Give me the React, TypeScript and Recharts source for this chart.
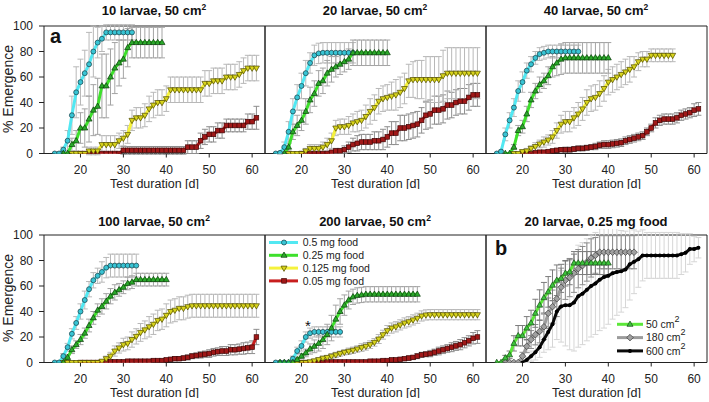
import React from "react";
import { LineChart, Line, XAxis, YAxis, ErrorBar, ReferenceArea } from "recharts";

const FONT = "'Liberation Sans', Arial, Helvetica, sans-serif";

// axes
const xTicks = [20, 30, 40, 50, 60];
const yTicks = [0, 20, 40, 60, 80, 100];
const X_MIN = 11.5;
const X_MAX = 63;
const xLabel = "Test duration [d]";
const yLabel = "% Emergence";

const titles = ["10 larvae, 50 cm", "20 larvae, 50 cm", "40 larvae, 50 cm", "100 larvae, 50 cm", "200 larvae, 50 cm", "20 larvae, 0.25 mg food"];
const titleSups = ["2", "2", "2", "2", "2", ""];
const foodLabels = ["0.5 mg food", "0.25 mg food", "0.125 mg food", "0.05 mg food"];
const areaLabels = ["50 cm", "180 cm", "600 cm"];

// 10 larvae (first day of each series: cyan, green, yellow, red)
const l10Start = [14, 16, 18, 20];
const l10Cyan = [0, 0, 3, 10, 30, 48, 56, 63, 70, 80, 87, 90, 95, 95, 95, 95, 95, 95, 95];
const l10CyanErr = [0, 0, 2, 8, 15, 20, 18, 18, 25, 20, 12, 10, 6, 6, 6, 6, 6, 6, 6];
const l10Green = [0, 0, 7, 10, 20, 20, 27, 34, 37, 53, 53, 60, 67, 71, 74, 83, 87, 87, 87, 87, 87, 87, 87, 87];
const l10GreenErr = [0, 0, 5, 8, 12, 15, 18, 20, 22, 25, 25, 22, 20, 18, 15, 15, 12, 12, 12, 12, 12, 12, 12, 12];
const l10Yellow = [0, 0, 0, 0, 2, 2, 2, 7, 7, 7, 7, 10, 12, 15, 26, 28, 28, 30, 35, 38, 40, 40, 43, 50, 50, 50, 50, 50, 50, 50, 50, 55, 55, 57, 57, 57, 60, 60, 60, 62, 65, 67, 67, 67];
const l10YellowErr = [0, 0, 0, 0, 3, 3, 3, 7, 7, 7, 7, 6, 6, 7, 8, 8, 8, 9, 10, 10, 10, 10, 10, 10, 10, 10, 10, 10, 10, 10, 10, 10, 10, 10, 10, 10, 10, 10, 10, 10, 10, 10, 10, 10];
const l10Red = [0, 0, 0, 0, 0, 0, 0, 0, 0, 0, 2.5, 2.5, 2.5, 2.5, 2.5, 2.5, 2.5, 2.5, 2.5, 2.5, 2.5, 2.5, 2.5, 2.5, 2.5, 5, 5, 5, 10, 13, 15, 15, 18, 18, 22, 22, 22, 22, 22, 25, 25, 28];
const l10RedErr = [0, 0, 0, 0, 0, 0, 0, 0, 0, 0, 3, 3, 3, 3, 3, 3, 3, 3, 3, 3, 3, 3, 3, 3, 3, 5, 5, 5, 6, 6, 6, 6, 6, 6, 5, 5, 5, 5, 5, 6, 6, 9];

// 20 larvae
const l20Start = [14, 16, 17, 20];
const l20Cyan = [0, 0.5, 5, 17, 33, 44, 53, 63, 71, 77, 78.5, 79, 79, 79, 79, 79, 79, 79, 79];
const l20CyanErr = [0, 1, 4, 8, 10, 10, 10, 10, 8, 8, 8, 8, 8, 8, 8, 8, 8, 8, 8];
const l20Green = [0, 5, 17, 22, 26, 33, 42, 47, 55, 57, 63, 66, 68, 70, 72, 74, 79, 79, 79, 79, 79, 79, 79, 79, 79];
const l20GreenErr = [0, 3, 6, 8, 8, 10, 10, 10, 10, 10, 10, 10, 8, 8, 8, 8, 10, 10, 10, 10, 10, 10, 10, 10, 10];
const l20Yellow = [0, 0, 0, 0, 2, 4, 4, 4, 5, 7, 10, 20, 21, 21, 22, 24, 25, 26, 29, 33, 36, 41, 43, 44, 45, 46, 48, 51, 57, 58, 58, 58, 58, 58, 58, 58, 61, 63, 63, 63, 63, 63, 63, 63, 63];
const l20YellowErr = [0, 0, 0, 0, 2, 3, 3, 3, 4, 5, 6, 6, 6, 6, 7, 7, 8, 8, 9, 10, 10, 10, 10, 10, 11, 12, 12, 12, 13, 14, 15, 15, 18, 18, 18, 18, 20, 20, 20, 20, 20, 20, 20, 20, 20];
const l20Red = [0, 0, 0, 0, 0, 0, 0, 1, 2, 2, 3, 5, 7, 8, 9, 9, 9, 10, 10, 11, 13, 16, 16, 20, 20, 21, 22, 23, 26, 30, 31, 34, 34, 35, 38, 38, 40, 41, 41, 44, 46, 46];
const l20RedErr = [0, 0, 0, 0, 0, 0, 0, 1, 2, 2, 3, 4, 5, 6, 6, 6, 6, 7, 7, 8, 8, 9, 9, 10, 10, 10, 10, 10, 10, 11, 11, 11, 11, 11, 11, 10, 10, 10, 10, 10, 9, 9];

// 40 larvae
const l40Start = [14, 16, 18, 20];
const l40Cyan = [0, 1.5, 15, 26, 36, 49, 56, 65, 70, 75, 78, 79, 80, 80, 80, 80, 80, 80, 80, 80];
const l40CyanErr = [0, 1, 5, 6, 7, 8, 8, 6, 6, 5, 5, 5, 5, 5, 5, 5, 5, 5, 5, 5];
const l40Green = [0, 0, 5, 18, 21, 31, 42, 49, 54, 57, 61, 68, 71, 74, 75, 75, 75, 75, 75, 75, 75, 75, 75, 75, 75];
const l40GreenErr = [0, 0, 2, 4, 5, 6, 6, 6, 6, 6, 7, 8, 10, 12, 12, 12, 12, 12, 12, 12, 12, 12, 12, 12, 12];
const l40Yellow = [0, 0, 1.5, 2, 4, 5.5, 7.5, 9, 10.6, 13, 18, 23, 25, 25, 28, 31, 35, 40, 43, 44, 47, 51, 56, 58, 60, 62, 64, 66, 68, 72, 74, 74, 77, 77, 77, 77, 77, 77];
const l40YellowErr = [0, 0, 1, 2, 2, 3, 3, 4, 4, 5, 6, 7, 8, 8, 8, 9, 9, 10, 10, 10, 10, 10, 10, 10, 10, 10, 10, 10, 8, 7, 6, 6, 5, 5, 5, 5, 5, 5];
const l40Red = [0, 0, 0, 0.5, 1, 1, 1.5, 2, 2.5, 3, 3, 3, 3.5, 4, 4, 4.5, 5, 5.5, 6.5, 7, 7, 7.5, 8, 8.5, 10, 11, 12, 13, 14, 17, 20, 24, 26, 27, 27, 27, 28, 30, 31, 32, 34, 35];
const l40RedErr = [0, 0, 0, 0.5, 1, 1, 1, 1, 1.5, 1.5, 2, 2, 2, 2, 2, 2, 2, 2.5, 2.5, 3, 3, 3, 3, 3, 3, 3, 3, 3, 3, 3, 3, 4, 4, 4, 4, 4, 4, 4, 4, 4, 5, 5];

// 100 larvae
const l100Start = [14, 16, 16, 20];
const l100Cyan = [0, 0, 5, 12, 22.5, 31, 40, 49, 57.5, 64.5, 68, 71, 74.4, 76, 76, 76, 76, 76, 76, 76];
const l100CyanErr = [0, 0, 2, 3, 4, 5, 6, 7, 6, 6, 6, 8, 8, 9, 9, 9, 9, 9, 9, 9];
const l100Green = [0, 4, 10, 14, 18, 23, 29, 35, 41, 44, 48, 52, 55, 57, 59, 62, 63, 65, 65, 65, 65, 65, 65, 65, 65];
const l100GreenErr = [0, 2, 3, 3, 4, 4, 5, 5, 5, 6, 6, 6, 6, 5, 5, 5, 5, 5, 5, 5, 5, 5, 5, 5, 5];
const l100Yellow = [0, 0, 0, 0, 0, 0, 0, 0, 0, 1, 3, 5, 9, 11.4, 14, 15, 18, 20.5, 23.6, 25.6, 28, 30, 33, 34, 37, 40, 41, 42.5, 42.5, 43.8, 44.5, 44.5, 44.5, 44.5, 44.5, 44.5, 44.5, 44.5, 44.5, 44.5, 44.5, 44.5, 44.5, 44.5, 44.5, 44.5];
const l100YellowErr = [0, 0, 0, 0, 0, 0, 0, 0, 0, 1, 2, 3, 4, 4, 5, 5, 6, 6, 7, 7, 8, 8, 8, 8, 9, 9, 9, 9, 9, 9, 9, 9, 9, 9, 9, 9, 9, 9, 9, 9, 9, 9, 9, 9, 9, 9];
const l100Red = [0, 0, 0, 0, 0, 0, 0.5, 0.5, 0.5, 0.5, 0.5, 1, 1, 1, 1, 1, 1, 1.5, 1.5, 1.5, 2, 2.5, 3, 3, 3.5, 4, 5, 5.5, 6, 6.5, 7, 8, 8.5, 9, 9, 10, 10, 10.5, 11, 11.5, 12, 20];
const l100RedErr = [0, 0, 0, 0, 0, 0, 0.5, 0.5, 0.5, 0.5, 0.5, 1, 1, 1, 1, 1, 1, 1, 1, 1, 1, 1, 1.5, 1.5, 1.5, 2, 2, 2, 2.5, 2.5, 3, 3, 3, 3.5, 3.5, 4, 4, 4, 4.5, 4.5, 5, 6];

// 200 larvae
const l200Start = [14, 15, 18, 20];
const l200Cyan = [0, 0, 0, 0, 3, 9, 13, 20, 23, 24, 24, 24, 24, 24, 24, 24];
const l200CyanErr = [0, 0, 0, 0, 2, 3, 4, 4, 4, 4, 4, 4, 4, 4, 4, 4];
const l200Green = [0, 0, 0, 0, 2.3, 5, 7.5, 10.6, 12.7, 15, 18, 22, 27, 34, 40, 45, 49, 51.5, 52.6, 53, 53.5, 53.5, 53.5, 53.5, 53.5, 53.5, 53.5, 53.5, 53.5, 53.5, 53.5, 53.5, 53.5];
const l200GreenErr = [0, 0, 0, 0, 1, 2, 3, 4, 5, 6, 7, 8, 10, 11, 10, 8, 7, 6, 6, 6, 6, 6, 6, 6, 6, 6, 6, 6, 6, 6, 6, 6, 6];
const l200Yellow = [0, 0, 0, 0, 0.5, 1.3, 2.3, 3.4, 4, 5, 6, 7, 8, 8.8, 9.6, 10.6, 11.7, 12.7, 14, 15.8, 18.4, 21.8, 25, 27, 28, 29.5, 31, 32, 33.4, 34.7, 36.5, 37.3, 37.5, 37.5, 37.5, 37.5, 37.5, 37.5, 37.5, 37.5, 37.5, 37.5, 37.5, 37.5];
const l200YellowErr = [0, 0, 0, 0, 0.5, 1, 1, 1.5, 1.5, 2, 2, 2, 2, 2.5, 2.5, 2.5, 3, 3, 3, 3, 3.5, 3.5, 4, 4, 4, 4, 4, 4, 4, 4, 4, 4, 4, 4, 4, 4, 4, 4, 4, 4, 4, 4, 4, 4];
const l200Red = [0, 0, 0, 0, 0, 0, 0.4, 0.4, 0.4, 0.4, 0.4, 0.4, 0.4, 0.4, 0.4, 0.4, 1, 1, 1, 1.5, 1.5, 2, 2, 2.5, 3, 3.5, 4, 5, 6, 6.5, 7, 8, 9, 10, 11, 12, 13, 14, 15.5, 17, 19, 20];
const l200RedErr = [0, 0, 0, 0, 0, 0, 0.3, 0.3, 0.3, 0.3, 0.3, 0.3, 0.3, 0.3, 0.3, 0.3, 0.5, 0.5, 0.5, 0.5, 0.5, 1, 1, 1, 1, 1.5, 1.5, 2, 2, 2, 2.5, 2.5, 3, 3, 3, 3.5, 3.5, 4, 4, 4, 4.5, 5];

// 20 larvae, 0.25 mg food, by area (50, 180, 600 cm2)
const areaStart = [14, 16, 20];
const area50 = [0, 0, 3.6, 6, 15, 21, 21, 27, 31, 38.6, 45, 50.8, 55.4, 60.6, 64.5, 66, 70, 71, 78, 78, 78, 78, 78, 78, 78, 78, 78];
const area50Err = [0, 0, 2, 3, 6, 8, 8, 9, 10, 11, 12, 12, 12, 12, 12, 11, 10, 10, 9, 9, 9, 9, 9, 9, 9, 9, 9];
const area180 = [0, 0, 0, 0, 5, 12.7, 18, 21.8, 24.4, 28, 38.6, 43.8, 50, 59, 64.5, 66.6, 70, 73.6, 76, 78.8, 82, 84, 86.5, 86.5, 86.5, 86.5, 86.5, 86.5, 86.5, 86.5, 86.5];
const area180Err = [0, 0, 0, 0, 3, 5, 7, 8, 9, 10, 12, 13, 14, 15, 15, 15, 15, 15, 15, 15, 15, 14, 13, 13, 13, 13, 13, 13, 13, 13, 13];
const area600 = [0, 2, 5, 8, 12, 18, 24, 30, 40, 44, 45, 45, 47, 52, 54, 57, 60, 62, 65, 67, 68, 70, 71, 71.5, 73, 77, 79, 81, 84, 84, 84, 84, 84, 84, 84, 84, 84, 85, 86, 89, 89, 90];
const area600Err = [0, 2, 4, 6, 8, 10, 14, 18, 22, 28, 32, 35, 38, 40, 40, 40, 40, 40, 40, 40, 38, 36, 34, 32, 30, 28, 25, 22, 20, 18, 18, 18, 18, 18, 18, 18, 18, 16, 15, 12, 10, 8];

type Row = { d: number; v: number; e: number };
type Style = { line: string; width: number; fill: string; edge: string; shape: string; err: string };

const toRows = (start: number, vals: number[], errs: number[]): Row[] =>
  vals.map((v, i) => ({ d: start + i, v, e: errs[i] }));

// cyan, green, yellow, red
const foodStyles: Style[] = [
  { line: "#52e8f2", width: 3, fill: "#38c4d4", edge: "#173c44", shape: "circle", err: "#b8b8b8" },
  { line: "#3ee02c", width: 3, fill: "#2aaa2a", edge: "#0b3a0b", shape: "up", err: "#a4a4a4" },
  { line: "#f5f23c", width: 3, fill: "#d8d41c", edge: "#4c4800", shape: "down", err: "#b8b8b8" },
  { line: "#c81e1e", width: 3, fill: "#a01818", edge: "#420606", shape: "square", err: "#8e8e8e" },
];
const areaStyles: Style[] = [
  { line: "#5ce83a", width: 3, fill: "#3cc43c", edge: "#1a4a1a", shape: "up", err: "#7c7c7c" },
  { line: "#9c9c9c", width: 3, fill: "#a0a0a0", edge: "#3a3a3a", shape: "diamond", err: "#8c8c8c" },
  { line: "#0a0a0a", width: 3, fill: "#000000", edge: "#000000", shape: "dot", err: "#d6d6d6" },
];

function marker(st: Style, cx: number, cy: number, key?: string | number) {
  const f = st.fill;
  const s = st.edge;
  switch (st.shape) {
    case "circle":
      return <circle key={key} cx={cx} cy={cy} r={2.5} fill={f} stroke={s} strokeWidth={0.7} />;
    case "up":
      return <polygon key={key} points={`${cx},${cy - 3.3} ${cx - 3},${cy + 2} ${cx + 3},${cy + 2}`} fill={f} stroke={s} strokeWidth={0.7} />;
    case "down":
      return <polygon key={key} points={`${cx},${cy + 3.3} ${cx - 3},${cy - 2} ${cx + 3},${cy - 2}`} fill={f} stroke={s} strokeWidth={0.7} />;
    case "square":
      return <rect key={key} x={cx - 2.3} y={cy - 2.3} width={4.6} height={4.6} fill={f} stroke={s} strokeWidth={0.7} />;
    case "diamond":
      return <polygon key={key} points={`${cx},${cy - 3.3} ${cx + 3.3},${cy} ${cx},${cy + 3.3} ${cx - 3.3},${cy}`} fill={f} stroke={s} strokeWidth={0.7} />;
    default:
      return <circle key={key} cx={cx} cy={cy} r={2} fill={f} />;
  }
}

const PW = 221;
const PH = 127.5;
const ML = 2;
const MT = 6;
const MR = 6;
const XH = 36;
const emptyTick = () => <g />;

type Series = { rows: Row[]; st: Style };

function Panel({ left, top, labels, series }: { left: number; top: number; labels: boolean; series: Series[] }) {
  const yw = labels ? 44 : 0;
  return (
    <div style={{ position: "absolute", left: left - yw - ML, top: top - MT }}>
      <LineChart width={ML + yw + PW + MR} height={MT + PH + XH} margin={{ top: MT, right: MR, bottom: 0, left: ML }}>
        <XAxis
          type="number"
          dataKey="d"
          domain={[X_MIN, X_MAX]}
          ticks={xTicks}
          interval={0}
          allowDataOverflow
          axisLine={false}
          stroke="#222"
          tickSize={4}
          tickMargin={8}
          height={XH}
          tick={{ fontSize: 12, fill: "#222", fontFamily: FONT }}
          label={{ value: xLabel, position: "insideBottom", offset: 2, fontSize: 12.5, fill: "#222", fontFamily: FONT }}
        />
        {labels ? (
          <YAxis
            type="number"
            domain={[0, 100]}
            ticks={yTicks}
            interval={0}
            allowDataOverflow
            axisLine={false}
            stroke="#222"
            width={yw}
            tickSize={5}
            tickMargin={6}
            tick={{ fontSize: 12, fill: "#222", fontFamily: FONT }}
          />
        ) : (
          <YAxis
            type="number"
            domain={[0, 100]}
            ticks={yTicks}
            interval={0}
            allowDataOverflow
            axisLine={false}
            stroke="#222"
            width={0}
            mirror
            tickSize={5}
            tick={emptyTick}
          />
        )}
        {series.map((s, i) => (
          <Line key={`e${i}`} data={s.rows} dataKey="v" stroke="none" dot={false} activeDot={false} isAnimationActive={false}>
            <ErrorBar dataKey="e" width={3} stroke={s.st.err} strokeWidth={1} direction="y" />
          </Line>
        ))}
        {series.map((s, i) => (
          <Line
            key={`l${i}`}
            data={s.rows}
            dataKey="v"
            type="linear"
            stroke={s.st.line}
            strokeWidth={s.st.width}
            dot={(p: any) => marker(s.st, p.cx, p.cy, `m${i}-${p.index}`)}
            activeDot={false}
            isAnimationActive={false}
          />
        ))}
        <ReferenceArea x1={X_MIN} x2={X_MAX} y1={0} y2={100} fill="none" stroke="#222" strokeWidth={1} />
      </LineChart>
    </div>
  );
}

const foodPanels = [
  { left: 43.5, top: 25.5, labels: true, starts: l10Start, vals: [l10Cyan, l10Green, l10Yellow, l10Red], errs: [l10CyanErr, l10GreenErr, l10YellowErr, l10RedErr] },
  { left: 264.5, top: 25.5, labels: false, starts: l20Start, vals: [l20Cyan, l20Green, l20Yellow, l20Red], errs: [l20CyanErr, l20GreenErr, l20YellowErr, l20RedErr] },
  { left: 485.5, top: 25.5, labels: false, starts: l40Start, vals: [l40Cyan, l40Green, l40Yellow, l40Red], errs: [l40CyanErr, l40GreenErr, l40YellowErr, l40RedErr] },
  { left: 43.5, top: 234.5, labels: true, starts: l100Start, vals: [l100Cyan, l100Green, l100Yellow, l100Red], errs: [l100CyanErr, l100GreenErr, l100YellowErr, l100RedErr] },
  { left: 264.5, top: 234.5, labels: false, starts: l200Start, vals: [l200Cyan, l200Green, l200Yellow, l200Red], errs: [l200CyanErr, l200GreenErr, l200YellowErr, l200RedErr] },
];

// drawing order: red, yellow, cyan, green
const foodOrder = [3, 2, 0, 1];

const areaSeries: Series[] = [
  { rows: toRows(areaStart[2], area600, area600Err), st: areaStyles[2] },
  { rows: toRows(areaStart[1], area180, area180Err), st: areaStyles[1] },
  { rows: toRows(areaStart[0], area50, area50Err), st: areaStyles[0] },
];

const titlePos = [
  [154, 14.5], [375, 14.5], [596, 14.5],
  [154, 226], [375, 226], [596, 226],
];

function Overlay() {
  return (
    <svg width={709} height={402} style={{ position: "absolute", left: 0, top: 0, pointerEvents: "none" }} fontFamily={FONT}>
      {titles.map((t, i) => (
        <text key={t + i} x={titlePos[i][0]} y={titlePos[i][1]} textAnchor="middle" fontSize={13} fontWeight="bold" fill="#111">
          {t}
          {titleSups[i] && (
            <tspan fontSize={8.5} dy={-5}>
              {titleSups[i]}
            </tspan>
          )}
        </text>
      ))}
      <text transform="translate(12.5, 89) rotate(-90)" textAnchor="middle" fontSize={14} fill="#222">{yLabel}</text>
      <text transform="translate(12.5, 298) rotate(-90)" textAnchor="middle" fontSize={14} fill="#222">{yLabel}</text>
      <text x={50} y={43} fontSize={20} fontWeight="bold" fill="#111">a</text>
      <text x={495} y={255} fontSize={20} fontWeight="bold" fill="#111">b</text>
      <text x={308} y={331} textAnchor="middle" fontSize={15} fill="#111">*</text>
      {foodLabels.map((lab, i) => {
        const y = 242.5 + i * 12.8;
        const st = foodStyles[i];
        return (
          <g key={lab}>
            <line x1={269} x2={298} y1={y} y2={y} stroke={st.line} strokeWidth={3} />
            {marker(st, 284, y)}
            <text x={302.7} y={y + 3.8} fontSize={10.5} fill="#222">{lab}</text>
          </g>
        );
      })}
      {areaLabels.map((lab, i) => {
        const y = 324.3 + i * 13.3;
        const st = areaStyles[i];
        return (
          <g key={lab}>
            <line x1={617} x2={643} y1={y} y2={y} stroke={st.line} strokeWidth={st.width} />
            {marker(st, 630, y)}
            <text x={646} y={y + 3.8} fontSize={10.5} fill="#222">
              {lab}
              <tspan fontSize={9} dy={-6}>2</tspan>
            </text>
          </g>
        );
      })}
    </svg>
  );
}

export default function App() {
  return (
    <div style={{ position: "absolute", left: 0, top: 0, width: 709, height: 402, background: "#fff", fontFamily: FONT }}>
      {foodPanels.map((p, k) => (
        <Panel
          key={k}
          left={p.left}
          top={p.top}
          labels={p.labels}
          series={foodOrder.map((i) => ({ rows: toRows(p.starts[i], p.vals[i], p.errs[i]), st: foodStyles[i] }))}
        />
      ))}
      <Panel left={485.5} top={234.5} labels={false} series={areaSeries} />
      <Overlay />
    </div>
  );
}
